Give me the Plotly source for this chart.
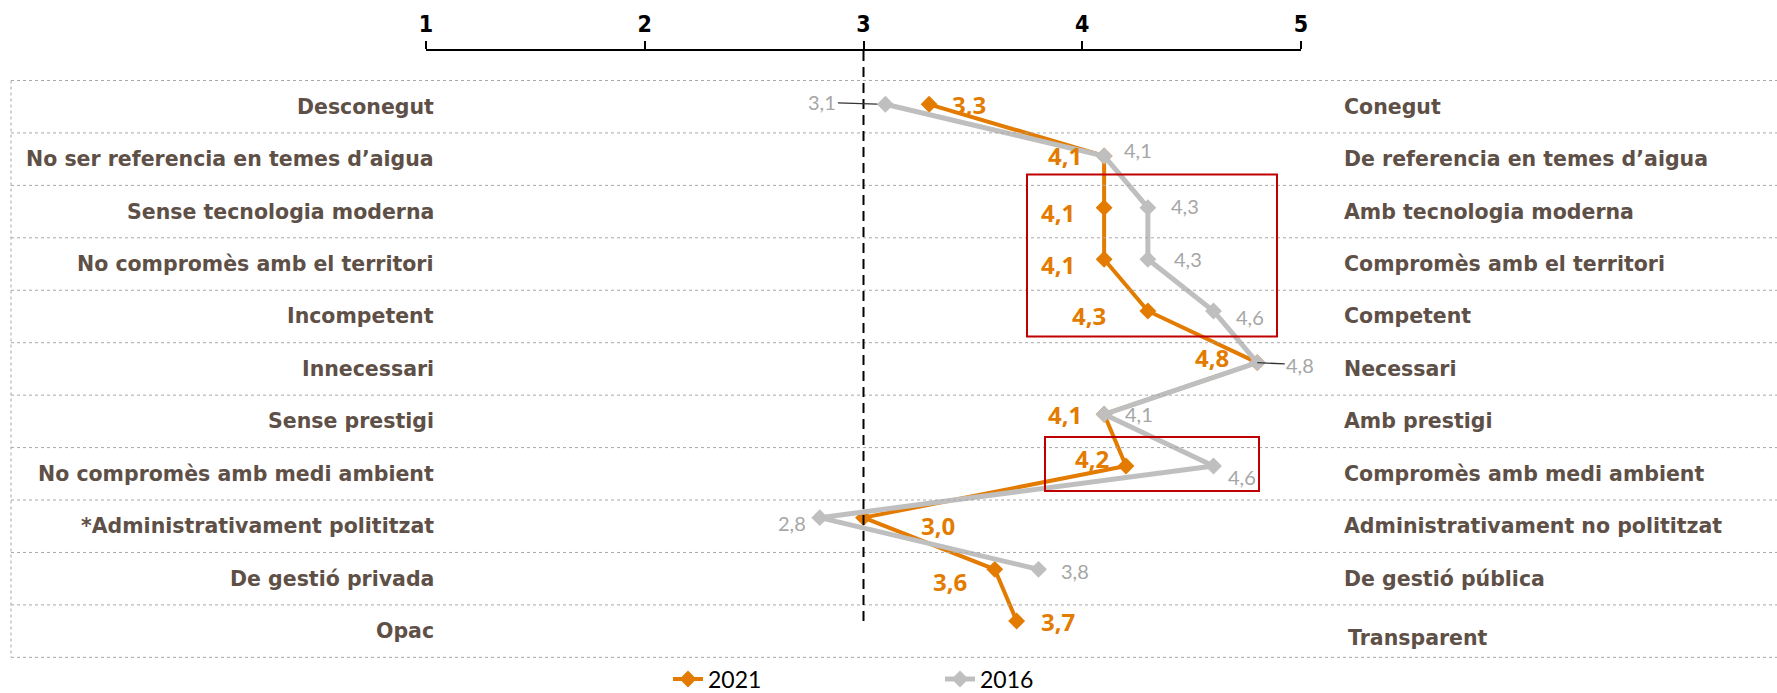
import plotly.graph_objects as go

# ---- data -------------------------------------------------------------
left_labels = [
    "Desconegut",
    "No ser referencia en temes d\u2019aigua",
    "Sense tecnologia moderna",
    "No compromès amb el territori",
    "Incompetent",
    "Innecessari",
    "Sense prestigi",
    "No compromès amb medi ambient",
    "*Administrativament polititzat",
    "De gestió privada",
    "Opac",
]
right_labels = [
    "Conegut",
    "De referencia en temes d\u2019aigua",
    "Amb tecnologia moderna",
    "Compromès amb el territori",
    "Competent",
    "Necessari",
    "Amb prestigi",
    "Compromès amb medi ambient",
    "Administrativament no polititzat",
    "De gestió pública",
    "Transparent",
]
scores_2021 = [3.3, 4.1, 4.1, 4.1, 4.3, 4.8, 4.1, 4.2, 3.0, 3.6, 3.7]
scores_2016 = [3.1, 4.1, 4.3, 4.3, 4.6, 4.8, 4.1, 4.6, 2.8, 3.8, None]
scale_ticks = [1, 2, 3, 4, 5]

# label offsets (pixels, right / down) relative to each point
off_2021 = [(40, 0), (-39, 0), (-46, 5), (-46, 5), (-59, 5), (-45, -5),
            (-39, 0), (-34, -7), (74, 8), (-45, 12), (41, 0)]
off_2016 = [(-63, -2), (34, -6), (37, -2), (40, 0), (36, 6), (43, 2),
            (35, 0), (28, 11), (-28, 5), (36, 2), None]

# ---- geometry / style ---------------------------------------------------
W, H = 1777, 693
TOP, BOTTOM = 51, 657           # axis line / table bottom (pixels)
X1_PX, X5_PX = 426, 1301        # where 1 and 5 fall on the scale
ROW0_PX, ROW_STEP = 104.3, 51.67
TABLE_TOP, TABLE_STEP = 80.5, 52.44
TABLE_LEFT = 11

ORANGE = "#E37B00"
GREY = "#BFBFBF"
TEXT = "#5E5047"
LABEL_FONT = "DejaVu Sans"
VALUE_FONT = "Open Sans"
THIN_FONT = "Lato"
NUM_FONT = "Liberation Sans Narrow, DejaVu Sans Condensed, sans-serif"


def ypaper(py):
    return (BOTTOM - py) / (BOTTOM - TOP)


def xpaper(px):
    return px / W


def fmt(v):
    return f"{v:.1f}".replace(".", ",")


rows = list(range(len(left_labels)))
n = len(rows)

fig = go.Figure()
fig.add_trace(go.Scatter(
    x=scores_2021, y=rows, name="2021", mode="lines+markers",
    line=dict(color=ORANGE, width=4),
    marker=dict(symbol="diamond", size=13, color=ORANGE),
    cliponaxis=False,
))
fig.add_trace(go.Scatter(
    x=scores_2016, y=rows, name="2016", mode="lines+markers",
    line=dict(color=GREY, width=5),
    marker=dict(symbol="diamond", size=13, color=GREY),
    connectgaps=False, cliponaxis=False,
))

shapes = []
annotations = []

# dotted table rules
for k in range(n + 1):
    y = ypaper(TABLE_TOP + k * TABLE_STEP)
    shapes.append(dict(type="line", xref="paper", yref="paper",
                       x0=xpaper(TABLE_LEFT), x1=1, y0=y, y1=y,
                       line=dict(color="#A8A8A8", width=1, dash="dot")))
shapes.append(dict(type="line", xref="paper", yref="paper",
                   x0=xpaper(TABLE_LEFT), x1=xpaper(TABLE_LEFT),
                   y0=ypaper(TABLE_TOP), y1=ypaper(TABLE_TOP + n * TABLE_STEP),
                   line=dict(color="#A8A8A8", width=1, dash="dot")))

# neutral mid-point reference line
shapes.append(dict(type="line", xref="x", yref="paper", x0=3, x1=3,
                   y0=1, y1=ypaper(621),
                   line=dict(color="black", width=2, dash="10px,6px")))

# highlight boxes
for (x0, x1, y0, y1) in [(1027, 1277, 174.5, 336.6), (1045, 1259, 437, 491)]:
    shapes.append(dict(type="rect", xref="paper", yref="paper",
                       x0=xpaper(x0), x1=xpaper(x1),
                       y0=ypaper(y1), y1=ypaper(y0),
                       line=dict(color="#C00000", width=2),
                       fillcolor="rgba(0,0,0,0)"))

# row labels on both sides
for i in rows:
    yc = ypaper(TABLE_TOP + (i + 0.5) * TABLE_STEP)
    annotations.append(dict(
        text=left_labels[i], xref="paper", yref="paper",
        x=xpaper(436), y=yc, xanchor="right", yanchor="middle",
        showarrow=False,
        font=dict(family=LABEL_FONT, size=20.5, color=TEXT, weight="bold")))
    yr = yc if i < n - 1 else ypaper(TABLE_TOP + (i + 0.5) * TABLE_STEP + 7)
    xr = 1342 if i < n - 1 else 1346
    annotations.append(dict(
        text=right_labels[i], xref="paper", yref="paper",
        x=xpaper(xr), y=yr, xanchor="left", yanchor="middle",
        showarrow=False,
        font=dict(family=LABEL_FONT, size=20.5, color=TEXT, weight="bold")))

# value labels
for i, v in enumerate(scores_2021):
    dx, dy = off_2021[i]
    annotations.append(dict(
        text=fmt(v), x=v, y=i, xref="x", yref="y", showarrow=False,
        xshift=dx, yshift=-dy, xanchor="center", yanchor="middle",
        font=dict(family=VALUE_FONT, size=24, color=ORANGE, weight="bold")))

for i, v in enumerate(scores_2016):
    if v is None:
        continue
    dx, dy = off_2016[i]
    ann = dict(text=fmt(v), x=v, y=i, xref="x", yref="y",
               xanchor="center", yanchor="middle",
               font=dict(family=THIN_FONT, size=20, color="#A6A6A6"))
    if i in (0, 5):
        # short leader line from label to marker
        ann.update(showarrow=True, arrowhead=0, arrowwidth=1.3,
                   arrowcolor="#333333", ax=dx, ay=dy,
                   standoff=8 if i == 0 else 0)
    else:
        ann.update(showarrow=False, xshift=dx, yshift=-dy)
    annotations.append(ann)

fig.update_layout(
    width=W, height=H,
    margin=dict(l=0, r=0, t=TOP, b=H - BOTTOM, autoexpand=False),
    paper_bgcolor="white", plot_bgcolor="white",
    showlegend=True,
    legend=dict(orientation="h", x=xpaper(668), xanchor="left",
                y=ypaper(679), yanchor="middle",
                entrywidth=227, entrywidthmode="pixels",
                font=dict(family=THIN_FONT, size=23, color="black"),
                bgcolor="rgba(0,0,0,0)"),
    xaxis=dict(domain=[xpaper(X1_PX), xpaper(X5_PX)], range=[1, 5],
               side="top", tickvals=scale_ticks,
               ticktext=[str(t) for t in scale_ticks],
               showline=True, linecolor="black", linewidth=2,
               ticks="outside", ticklen=8, tickwidth=2, tickcolor="black",
               tickfont=dict(family=NUM_FONT, size=23, color="black",
                             weight="bold"),
               showgrid=False, zeroline=False, fixedrange=True),
    yaxis=dict(range=[(BOTTOM - ROW0_PX) / ROW_STEP,
                      -(ROW0_PX - TOP) / ROW_STEP],
               visible=False, showgrid=False, zeroline=False,
               fixedrange=True),
    shapes=shapes,
    annotations=annotations,
)

fig.write_html("out.html")
